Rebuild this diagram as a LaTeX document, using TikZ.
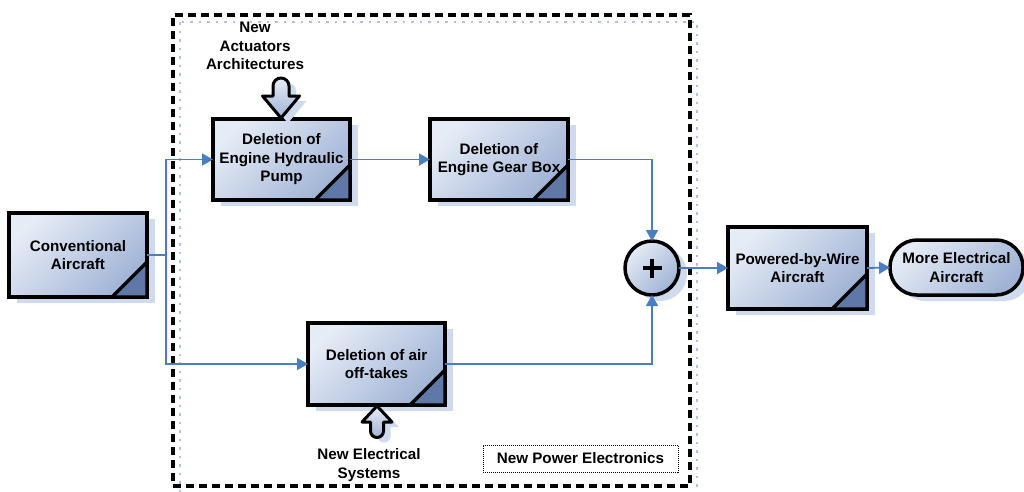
\documentclass[tikz,border=0pt]{standalone}
\usepackage{fontspec}
\setmainfont{Liberation Sans}
\usetikzlibrary{arrows.meta,shadows,calc}
\definecolor{boxl}{HTML}{E6ECF6}
\definecolor{boxd}{HTML}{A0B3D5}
\definecolor{shad}{HTML}{CFDAEE}
\definecolor{foldc}{HTML}{5F78A8}
\definecolor{conn}{HTML}{4A7DC2}
\definecolor{dashsh}{HTML}{AFC2E3}
\newcommand\dogear[1]{%
  \fill[foldc] ($(#1.south east)+(0,-35)$) -- ($(#1.south east)+(-35,0)$) -- (#1.south east) -- cycle;
  \draw[line width=3.5pt, line join=miter] ($(#1.south east)+(0,-35)$) -- ($(#1.south east)+(-35,0)$) -- (#1.south east) -- cycle;}
\begin{document}
\begin{tikzpicture}[x=1pt,y=-1pt,
  lbl/.style={font=\fontsize{15.2}{18.5}\selectfont\bfseries, align=center, inner sep=0pt},
  sbox/.style={lbl, draw, line width=3.5pt, outer sep=0pt, top color=boxl, bottom color=boxd, shading angle=45,
     drop shadow={shadow xshift=8pt, shadow yshift=-6pt, fill=shad, opacity=1}},
  cn/.style={draw=conn, line width=1.8pt, -{Triangle[length=11pt,width=12pt]}},
  barrow/.style={draw, line width=3pt, line join=round, top color=boxl, bottom color=boxd,
     drop shadow={shadow xshift=7pt, shadow yshift=-5pt, fill=shad, opacity=1}}
]
\useasboundingbox (0,0) rectangle (1024,491);

% dashed region
\draw[dashsh, line width=2.5pt, dash pattern=on 2.5pt off 6pt] (180,22) rectangle (697,493);
\node[draw, line width=3.5pt, dash pattern=on 8pt off 5pt, minimum width=517pt, minimum height=471pt, outer sep=0pt] (region) at (431.5,250.5) {};

% boxes
\node[sbox, minimum width=138pt, minimum height=84pt] (conv) at (78,255) {Conventional\\Aircraft};
\node[sbox, minimum width=137pt, minimum height=81pt] (hyd) at (281.5,159.5) {Deletion of\\Engine Hydraulic\\Pump};
\node[sbox, minimum width=138pt, minimum height=81pt] (gear) at (499,159.5) {Deletion of\\Engine Gear Box};
\node[sbox, minimum width=137pt, minimum height=82pt] (off) at (376.5,364) {Deletion of air\\off-takes};
\node[sbox, minimum width=139pt, minimum height=82pt] (pbw) at (797.5,268) {Powered-by-Wire\\Aircraft};
\node[sbox, rounded corners=27pt, minimum width=133pt, minimum height=55pt] (mea) at (956.5,267.5) {More Electrical\\Aircraft};
\node[sbox, circle, minimum size=54pt] (sum) at (652,268) {};
\draw[line width=4pt] ($(sum.center)+(-9.5,0)$) -- ($(sum.center)+(9.5,0)$);
\draw[line width=4pt] ($(sum.center)+(0,-9.5)$) -- ($(sum.center)+(0,9.5)$);

\dogear{conv}
\dogear{hyd}
\dogear{gear}
\dogear{off}
\dogear{pbw}

% block arrows
\draw[barrow] (262.5,96) -- (273,96) -- (273,86) arc[start angle=180, end angle=360, radius=8] -- (289,96) -- (299.5,96) -- (281,118) -- cycle;
\draw[barrow] (377,406) -- (392,422) -- (383.5,422) -- (383.5,431) arc[start angle=0, end angle=180, radius=6.5] -- (370.5,422) -- (362,422) -- cycle;

% labels
\node[lbl] (naa) at (255,46) {New\\Actuators\\Architectures};
\node[lbl] (nes) at (369,465) {New Electrical\\Systems};
\node[lbl, draw, densely dotted, line width=1pt, minimum width=195pt, minimum height=27pt] (npe) at (580.5,458.5) {New Power Electronics};

% connectors
\draw[cn] (conv.east) -- ++(19,0) coordinate (split) |- (hyd.west);
\draw[cn] (split) |- (off.west);
\draw[cn] (hyd.east) -- (gear.west);
\draw[cn] (gear.east) -| (sum.north);
\draw[cn] (off.east) -| (sum.south);
\draw[cn] (sum.east) -- (pbw.west);
\draw[cn] (pbw.east) -- (mea.west);
\end{tikzpicture}
\end{document}
